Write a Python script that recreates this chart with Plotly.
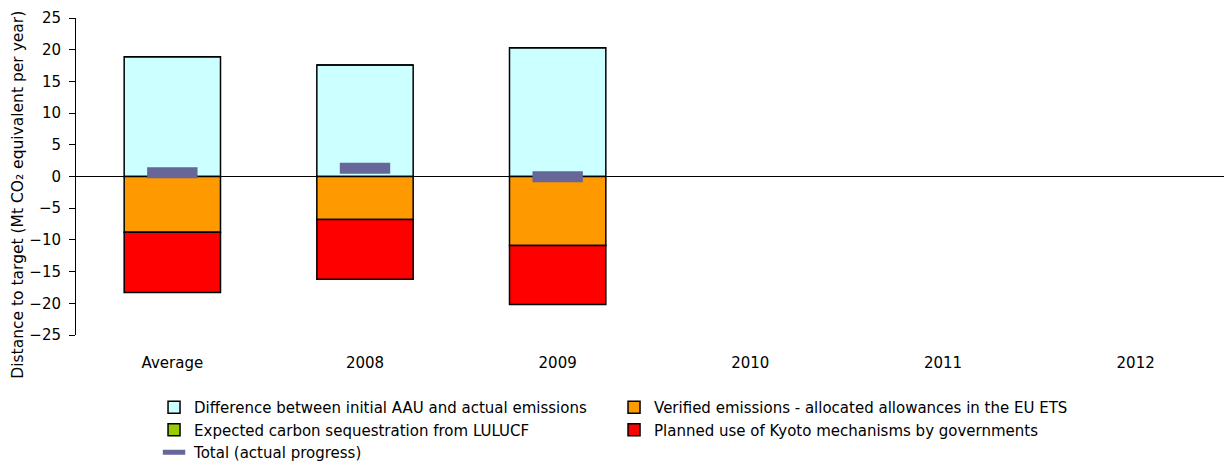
import plotly.graph_objects as go

categories = ["Average", "2008", "2009", "2010", "2011", "2012"]
aau_diff = [18.9, 17.6, 20.3, None, None, None]
ets_verified = [-8.8, -6.8, -10.9, None, None, None]
lulucf = [0, 0, 0, None, None, None]
kyoto_mech = [-9.5, -9.4, -9.3, None, None, None]
total_progress = [0.6, 1.3, -0.05, None, None, None]
y_title = "Distance to target (Mt CO₂ equivalent per year)"

FONT = "DejaVu Sans"
FS = 15
outline = dict(color="#000000", width=1.5)

fig = go.Figure()
fig.add_trace(go.Bar(x=categories, y=aau_diff, name="Difference between initial AAU and actual emissions",
                     marker=dict(color="#CCFFFF", line=outline)))
fig.add_trace(go.Bar(x=categories, y=ets_verified, name="Verified emissions - allocated allowances in the EU ETS",
                     marker=dict(color="#FF9900", line=outline)))
fig.add_trace(go.Bar(x=categories, y=lulucf, name="Expected carbon sequestration from LULUCF",
                     marker=dict(color="#99CC00", line=outline)))
fig.add_trace(go.Bar(x=categories, y=kyoto_mech, name="Planned use of Kyoto mechanisms by governments",
                     marker=dict(color="#FF0000", line=outline)))
fig.add_trace(go.Scatter(x=categories, y=total_progress, name="Total (actual progress)", mode="markers",
                         marker=dict(symbol="line-ew", size=36, color="#666699",
                                     line=dict(color="#666699", width=11))))

fig.update_layout(
    width=1224, height=461,
    barmode="relative", bargap=0.5,
    paper_bgcolor="white", plot_bgcolor="white",
    margin=dict(l=68, r=0, t=10, b=130),
    font=dict(family=FONT, size=FS, color="#000000"),
    showlegend=True,
    legend=dict(orientation="h", x=0.0675, xanchor="left", y=-0.178, yanchor="top",
                entrywidth=415, entrywidthmode="pixels", itemwidth=30,
                font=dict(family=FONT, size=15, color="#000000"), traceorder="normal"),
    annotations=[dict(text=y_title, textangle=-90, xref="paper", yref="paper",
                      x=-0.0502, y=0.4424, xanchor="center", yanchor="middle",
                      showarrow=False, font=dict(family=FONT, size=15.5, color="#000000"))],
)
fig.update_xaxes(showline=False, showgrid=False, ticks="", ticklabelstandoff=17, automargin=False,
                 tickfont=dict(family=FONT, size=FS))
fig.update_yaxes(range=[-25, 25], tickvals=list(range(-25, 26, 5)), showgrid=False,
                 showline=True, linecolor="#000000", linewidth=1, automargin=False,
                 ticks="outside", ticklen=6, tickcolor="#000000", ticklabelstandoff=5,
                 zeroline=True, zerolinecolor="#000000", zerolinewidth=1,
                 tickfont=dict(family=FONT, size=FS))

fig.write_html("out.html")
